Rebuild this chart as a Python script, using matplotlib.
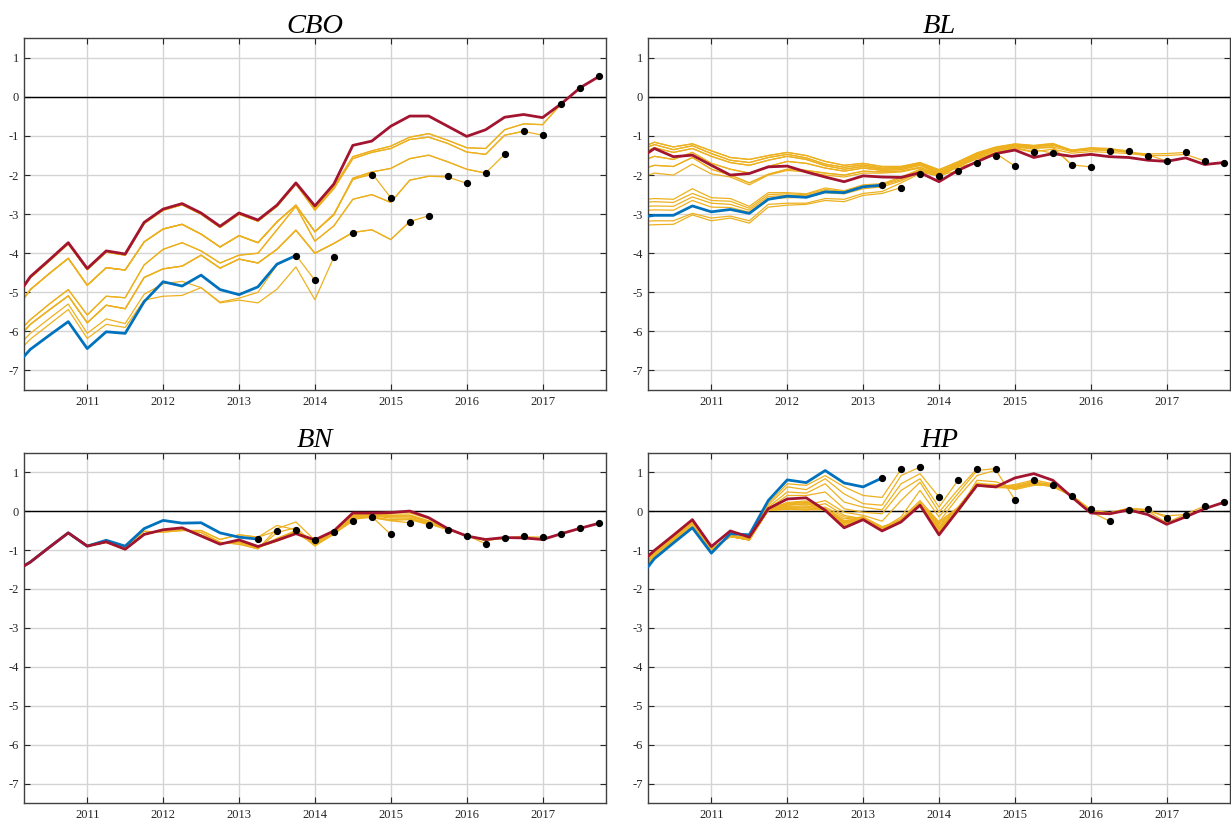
import numpy as np
import matplotlib
matplotlib.use("Agg")
import matplotlib.pyplot as plt

plt.rcParams['font.family'] = ['Liberation Serif', 'DejaVu Serif']
plt.rcParams['axes.unicode_minus'] = False

ORANGE = '#EDB120'
BLUE = '#0072BD'
RED = '#A2142F'

# quarterly dates, 2010Q1 .. 2017Q4
quarters = 2010 + 0.25 * np.arange(32)

# ---------------- CBO ----------------
cbo_red = [-5.30, -4.60, -4.17, -3.73, -4.39, -3.94, -4.02, -3.21, -2.87, -2.73, -2.97, -3.31,
           -2.97, -3.15, -2.77, -2.20, -2.79, -2.23, -1.24, -1.13, -0.75, -0.49, -0.49, -0.75,
           -1.01, -0.84, -0.52, -0.45, -0.53, -0.17, 0.24, 0.53]
cbo_blue = [-7.00, -6.46, -6.10, -5.75, -6.44, -6.01, -6.05, -5.24, -4.73, -4.84, -4.56, -4.93,
            -5.06, -4.86, -4.28, -4.06]
# early histories shared by several vintages
cbo_A = [-5.33, -4.63, -4.20, -3.76, -4.42, -3.97, -4.05, -3.24, -2.90, -2.76, -3.00, -3.34,
         -3.00, -3.18, -2.80, -2.23]
cbo_O1 = [-5.60, -4.93, -4.52, -4.13, -4.82, -4.37, -4.43, -3.71, -3.38, -3.26, -3.51, -3.84,
          -3.55, -3.73, -3.20, -2.77]
cbo_O2 = [-6.20, -5.70, -5.30, -4.93, -5.58, -5.10, -5.14, -4.30, -3.90, -3.73, -3.94, -4.25,
          -4.05, -4.00, -3.40, -2.80]
cbo_O3 = [-6.35, -5.82, -5.45, -5.09, -5.78, -5.33, -5.42, -4.62, -4.40, -4.33, -4.05, -4.38,
          -4.15, -4.25, -3.90, -3.41]
cbo_O4 = [-6.55, -6.05, -5.67, -5.30, -6.05, -5.68, -5.80, -5.05, -4.78, -4.72, -4.88, -5.25,
          -5.15, -5.00, -4.30, -4.05]
cbo_O5 = [-6.70, -6.20, -5.82, -5.44, -6.18, -5.82, -5.90, -5.20, -5.10, -5.08, -4.88, -5.27,
          -5.20, -5.27, -4.92, -4.35]
cbo_vintages = [
    (cbo_O4, [-4.69]),
    (cbo_O5, [-5.19, -4.10]),
    (cbo_O3, [-4.00, -3.75, -3.47]),
    (cbo_O1, [-3.45, -3.00, -2.10, -1.99]),
    (cbo_O1, [-3.45, -3.00, -2.12, -1.95, -2.58]),
    (cbo_O3, [-4.00, -3.75, -3.47, -3.40, -3.65, -3.19]),
    (cbo_O3, [-4.00, -3.75, -3.47, -3.40, -3.65, -3.19, -3.04]),
    (cbo_O2, [-3.69, -3.30, -2.62, -2.50, -2.70, -2.13, -2.03, -2.03]),
    (cbo_O2, [-3.69, -3.30, -2.62, -2.50, -2.70, -2.13, -2.03, -2.05, -2.21]),
    (cbo_O1, [-3.45, -3.02, -2.08, -1.92, -1.83, -1.58, -1.49, -1.66, -1.85, -1.95]),
    (cbo_O1, [-3.45, -3.02, -2.08, -1.92, -1.83, -1.58, -1.49, -1.66, -1.85, -1.95, -1.47]),
    (cbo_A, [-2.90, -2.35, -1.58, -1.42, -1.32, -1.09, -1.03, -1.19, -1.41, -1.47, -0.98, -0.88]),
    (cbo_A, [-2.90, -2.35, -1.58, -1.42, -1.32, -1.09, -1.03, -1.19, -1.41, -1.47, -0.98, -0.88, -0.98]),
    (cbo_A, [-2.86, -2.30, -1.53, -1.38, -1.26, -1.03, -0.94, -1.11, -1.30, -1.32, -0.84, -0.69, -0.71,
             -0.17]),
    (cbo_A, [-2.86, -2.30, -1.53, -1.38, -1.26, -1.03, -0.94, -1.11, -1.30, -1.32, -0.84, -0.69, -0.71,
             -0.17, 0.24]),
]

# ---------------- BL ----------------
bl_red = [-1.65, -1.32, -1.53, -1.49, -1.75, -2.00, -1.96, -1.79, -1.77, -1.92, -2.05, -2.17,
          -2.02, -2.05, -2.06, -1.94, -2.17, -1.88, -1.66, -1.45, -1.36, -1.55, -1.45, -1.52,
          -1.47, -1.53, -1.55, -1.62, -1.65, -1.56, -1.73, -1.68]
bl_blue = [-3.10, -3.03, -3.03, -2.79, -2.94, -2.88, -2.98, -2.62, -2.54, -2.57, -2.43, -2.45,
           -2.30, -2.26]
bl_L1 = [-2.65, -2.60, -2.62, -2.35, -2.58, -2.60, -2.80, -2.45, -2.45, -2.48, -2.33, -2.40, -2.25, -2.22]
bl_L2 = [-2.72, -2.68, -2.70, -2.47, -2.65, -2.67, -2.85, -2.50, -2.48, -2.50, -2.37, -2.42, -2.28, -2.24]
bl_L3 = [-2.82, -2.79, -2.80, -2.56, -2.72, -2.75, -2.90, -2.55, -2.52, -2.53, -2.40, -2.45, -2.30, -2.26]
bl_L4 = [-2.92, -2.89, -2.90, -2.65, -2.82, -2.83, -2.95, -2.60, -2.58, -2.57, -2.45, -2.48, -2.35, -2.30]
bl_L5 = [-3.20, -3.17, -3.17, -2.98, -3.10, -3.05, -3.17, -2.75, -2.72, -2.72, -2.60, -2.62, -2.47, -2.42]
bl_L6 = [-3.30, -3.27, -3.26, -3.02, -3.17, -3.10, -3.23, -2.82, -2.77, -2.75, -2.65, -2.68, -2.52, -2.47]
bl_U1 = [-1.35, -1.16, -1.28, -1.20, -1.38, -1.55, -1.60, -1.50, -1.42, -1.50, -1.65, -1.75,
         -1.70, -1.78, -1.78, -1.68]
bl_U2 = [-1.40, -1.22, -1.35, -1.25, -1.45, -1.62, -1.68, -1.55, -1.47, -1.56, -1.72, -1.80,
         -1.74, -1.82, -1.80, -1.70]
bl_U3 = [-1.50, -1.30, -1.42, -1.32, -1.52, -1.68, -1.75, -1.62, -1.52, -1.60, -1.76, -1.85,
         -1.78, -1.85, -1.83, -1.72]
bl_U4 = [-1.70, -1.52, -1.60, -1.42, -1.70, -1.85, -1.95, -1.78, -1.65, -1.70, -1.82, -1.90,
         -1.82, -1.88, -1.86, -1.75]
bl_U5 = [-1.90, -1.75, -1.78, -1.55, -1.85, -2.00, -2.20, -1.98, -1.85, -1.88, -1.95, -2.00,
         -1.90, -1.92, -1.90, -1.80]
bl_U6 = [-2.10, -1.95, -2.00, -1.72, -1.97, -2.05, -2.25, -2.00, -1.88, -1.92, -2.00, -2.05,
         -1.95, -1.95, -1.92, -1.82]
bl_vintages = [
    (bl_L6, [-2.32]),
    (bl_L5, [-2.20, -1.96]),
    (bl_L4, [-2.15, -1.92, -2.03]),
    (bl_L3, [-2.12, -1.90, -2.00, -1.90]),
    (bl_L2, [-2.08, -1.88, -1.98, -1.80, -1.68]),
    (bl_L1, [-2.05, -1.85, -1.95, -1.76, -1.58, -1.50]),
    (bl_U6, [-2.05, -1.79, -1.58, -1.45, -1.77]),
    (bl_U5, [-2.02, -1.77, -1.56, -1.42, -1.32, -1.42]),
    (bl_U4, [-1.98, -1.74, -1.52, -1.38, -1.28, -1.34, -1.44]),
    (bl_U3, [-1.95, -1.72, -1.50, -1.35, -1.25, -1.30, -1.30, -1.74]),
    (bl_U3, [-1.93, -1.70, -1.48, -1.33, -1.24, -1.28, -1.28, -1.74, -1.79]),
    (bl_U2, [-1.90, -1.68, -1.46, -1.31, -1.22, -1.27, -1.24, -1.38, -1.33, -1.38]),
    (bl_U2, [-1.88, -1.67, -1.45, -1.30, -1.22, -1.26, -1.22, -1.37, -1.32, -1.33, -1.38]),
    (bl_U1, [-1.87, -1.66, -1.44, -1.29, -1.21, -1.25, -1.20, -1.36, -1.30, -1.32, -1.40, -1.52]),
    (bl_U1, [-1.86, -1.66, -1.43, -1.28, -1.20, -1.24, -1.19, -1.37, -1.31, -1.34, -1.42, -1.48, -1.64]),
    (bl_U4, [-1.95, -1.72, -1.50, -1.35, -1.26, -1.32, -1.28, -1.40, -1.36, -1.37, -1.42, -1.46, -1.45,
             -1.42]),
    (bl_U5, [-2.00, -1.76, -1.54, -1.38, -1.30, -1.40, -1.34, -1.44, -1.40, -1.42, -1.45, -1.50, -1.50,
             -1.47, -1.64]),
]

# ---------------- BN ----------------
bn_red = [-1.60, -1.31, -0.93, -0.56, -0.90, -0.79, -0.98, -0.60, -0.48, -0.43, -0.64, -0.85,
          -0.74, -0.91, -0.75, -0.58, -0.74, -0.51, -0.05, -0.05, -0.04, 0.00, -0.17, -0.45,
          -0.64, -0.73, -0.68, -0.69, -0.73, -0.58, -0.44, -0.31]
bn_blue = [-1.60, -1.31, -0.93, -0.56, -0.90, -0.75, -0.90, -0.45, -0.24, -0.31, -0.30, -0.56,
           -0.67, -0.72]
bn_E1 = [-1.60, -1.31, -0.93, -0.56, -0.88, -0.77, -0.92, -0.52, -0.54, -0.50, -0.50, -0.73, -0.61, -0.67]
bn_E2 = [-1.60, -1.31, -0.93, -0.56, -0.89, -0.79, -0.97, -0.58, -0.50, -0.48, -0.55, -0.80, -0.85, -0.97]
bn_E3 = [-1.60, -1.31, -0.93, -0.56, -0.90, -0.80, -0.98, -0.60, -0.49, -0.45, -0.62, -0.82, -0.80, -0.93]
bn_vintages = [
    (bn_E1, [-0.51]),
    (bn_E1, [-0.37, -0.48]),
    (bn_E2, [-0.45, -0.28, -0.75]),
    (bn_E2, [-0.55, -0.43, -0.85, -0.54]),
    (bn_E3, [-0.70, -0.50, -0.90, -0.58, -0.26]),
    (bn_E3, [-0.72, -0.52, -0.88, -0.60, -0.22, -0.14]),
    (bn_E3, [-0.74, -0.55, -0.86, -0.58, -0.20, -0.14, -0.60]),
    (bn_E3, [-0.76, -0.57, -0.84, -0.57, -0.18, -0.17, -0.25, -0.30]),
    (bn_E3, [-0.77, -0.58, -0.82, -0.56, -0.16, -0.16, -0.24, -0.22, -0.35]),
    (bn_E3, [-0.77, -0.58, -0.80, -0.56, -0.14, -0.15, -0.22, -0.20, -0.33, -0.48]),
    (bn_E3, [-0.76, -0.58, -0.78, -0.55, -0.12, -0.12, -0.18, -0.18, -0.32, -0.47, -0.64]),
    (bn_E3, [-0.76, -0.58, -0.77, -0.54, -0.10, -0.10, -0.15, -0.15, -0.30, -0.46, -0.62, -0.84]),
    (bn_E3, [-0.75, -0.58, -0.76, -0.53, -0.10, -0.10, -0.14, -0.12, -0.28, -0.46, -0.63, -0.76, -0.69]),
    (bn_E3, [-0.75, -0.57, -0.75, -0.53, -0.08, -0.08, -0.12, -0.12, -0.27, -0.45, -0.64, -0.75, -0.70,
             -0.64]),
    (bn_E3, [-0.75, -0.56, -0.75, -0.52, -0.07, -0.07, -0.10, -0.10, -0.25, -0.45, -0.64, -0.74, -0.70,
             -0.66, -0.67]),
    (bn_E3, [-0.74, -0.54, -0.75, -0.52, -0.06, -0.06, -0.05, -0.05, -0.20, -0.45, -0.64, -0.74, -0.69,
             -0.68, -0.70, -0.60]),
    (bn_E3, [-0.74, -0.52, -0.75, -0.52, -0.05, -0.05, -0.03, -0.02, -0.18, -0.45, -0.64, -0.73, -0.68,
             -0.69, -0.72, -0.58, -0.44]),
]

# ---------------- HP ----------------
hp_red = [-1.45, -1.01, -0.62, -0.22, -0.91, -0.51, -0.67, 0.06, 0.31, 0.34, 0.02, -0.43,
          -0.22, -0.51, -0.28, 0.15, -0.61, 0.02, 0.66, 0.62, 0.85, 0.96, 0.79, 0.36,
          -0.05, -0.07, 0.03, -0.09, -0.34, -0.15, 0.06, 0.22]
hp_blue = [-1.85, -1.22, -0.82, -0.43, -1.08, -0.58, -0.61, 0.27, 0.80, 0.73, 1.04, 0.72,
           0.62, 0.85]
hp_G1 = [-1.70, -1.17, -0.78, -0.38, -1.05, -0.58, -0.63]
hp_G2 = [-1.60, -1.12, -0.74, -0.32, -1.00, -0.62, -0.70]
hp_G3 = [-1.52, -1.06, -0.68, -0.27, -0.98, -0.65, -0.74]
hp_vintages = [
    (hp_G1, [0.20, 0.70, 0.66, 0.91, 0.62, 0.40, 0.35, 1.07]),
    (hp_G1, [0.15, 0.62, 0.55, 0.83, 0.44, 0.19, 0.15, 0.91, 1.13]),
    (hp_G2, [0.10, 0.49, 0.46, 0.70, 0.23, 0.10, 0.03, 0.70, 0.96, 0.36]),
    (hp_G2, [0.06, 0.40, 0.40, 0.49, 0.06, -0.03, -0.07, 0.53, 0.83, 0.10, 0.79]),
    (hp_G2, [0.03, 0.19, 0.15, 0.27, -0.03, -0.11, -0.26, 0.27, 0.74, -0.03, 0.55, 1.09]),
    (hp_G3, [0.03, 0.10, 0.09, 0.19, -0.11, -0.20, -0.45, -0.15, 0.53, -0.15, 0.45, 1.04, 1.09]),
    (hp_G3, [0.03, 0.06, 0.05, 0.10, -0.15, -0.22, -0.45, -0.20, 0.27, -0.28, 0.35, 0.91, 1.05, 0.29]),
    (hp_G3, [0.02, 0.06, 0.03, 0.06, -0.20, -0.15, -0.40, -0.24, 0.20, -0.41, 0.00, 0.79, 0.75, 0.57,
             0.80]),
    (hp_G3, [0.02, 0.04, 0.03, 0.04, -0.25, -0.18, -0.42, -0.24, 0.18, -0.35, 0.05, 0.70, 0.68, 0.55,
             0.66, 0.68]),
    (hp_G3, [0.02, 0.05, 0.05, 0.03, -0.28, -0.20, -0.45, -0.26, 0.17, -0.28, 0.10, 0.70, 0.65, 0.58,
             0.70, 0.62, 0.39]),
    (hp_G3, [0.03, 0.08, 0.10, 0.02, -0.30, -0.20, -0.45, -0.27, 0.18, -0.41, 0.02, 0.72, 0.65, 0.60,
             0.72, 0.65, 0.40, 0.04]),
    (hp_G3, [0.04, 0.12, 0.13, 0.05, -0.25, -0.18, -0.42, -0.22, 0.22, -0.35, 0.05, 0.68, 0.62, 0.58,
             0.70, 0.64, 0.40, -0.02, -0.26]),
    (hp_G3, [0.05, 0.15, 0.18, 0.06, -0.28, -0.15, -0.45, -0.22, 0.20, -0.30, 0.08, 0.70, 0.60, 0.60,
             0.68, 0.66, 0.40, 0.00, -0.08, 0.03]),
    (hp_G3, [0.05, 0.15, 0.20, 0.05, -0.30, -0.18, -0.47, -0.25, 0.20, -0.45, 0.00, 0.65, 0.62, 0.62,
             0.70, 0.68, 0.40, 0.02, -0.04, 0.07, 0.04]),
    (hp_G3, [0.05, 0.18, 0.22, 0.06, -0.32, -0.18, -0.48, -0.25, 0.20, -0.48, -0.02, 0.64, 0.62, 0.64,
             0.72, 0.66, 0.38, 0.00, -0.06, 0.06, 0.03, -0.17]),
    (hp_G3, [0.05, 0.20, 0.24, 0.04, -0.35, -0.20, -0.48, -0.27, 0.18, -0.52, 0.00, 0.64, 0.62, 0.66,
             0.75, 0.68, 0.38, -0.02, -0.05, 0.07, 0.00, -0.12, -0.09]),
    (hp_G3, [0.05, 0.22, 0.26, 0.03, -0.38, -0.20, -0.50, -0.27, 0.18, -0.55, 0.00, 0.64, 0.62, 0.68,
             0.80, 0.70, 0.38, -0.03, -0.05, 0.07, 0.00, -0.30, -0.08, 0.13]),
]

panels = [
    ("CBO", cbo_red, cbo_blue, cbo_vintages, [0.0197, 0.5284, 0.4728, 0.4253]),
    ("BL", bl_red, bl_blue, bl_vintages, [0.5267, 0.5284, 0.4728, 0.4253]),
    ("BN", bn_red, bn_blue, bn_vintages, [0.0197, 0.0287, 0.4728, 0.4240]),
    ("HP", hp_red, hp_blue, hp_vintages, [0.5267, 0.0287, 0.4728, 0.4240]),
]


def draw_panel(ax, title, red, blue, vintages):
    ax.axhline(0, color='black', lw=1.0, zorder=1.5)
    ends_x, ends_y = [], []
    for hist, tail in vintages:
        v = hist + tail
        ax.plot(quarters[:len(v)], v, color=ORANGE, lw=0.9, zorder=2)
        ends_x.append(quarters[len(v) - 1])
        ends_y.append(v[-1])
    ax.plot(quarters[:len(blue)], blue, color=BLUE, lw=2.0, zorder=3)
    ax.plot(quarters[:len(red)], red, color=RED, lw=2.0, zorder=4)
    ends_x += [quarters[len(blue) - 1], quarters[len(red) - 1]]
    ends_y += [blue[-1], red[-1]]
    ax.plot(ends_x, ends_y, 'o', color='black', ms=4.2, zorder=5)

    ax.set_xlim(2010.17, 2017.84)
    ax.set_ylim(-7.5, 1.5)
    ax.set_xticks(range(2011, 2018))
    ax.set_yticks(range(-7, 2))
    ax.grid(True, color='#d4d4d4', lw=1.0)
    ax.set_axisbelow(True)
    ax.tick_params(direction='in', top=True, right=True, length=4.5, width=0.8,
                   labelsize=9, colors='#262626', pad=4)
    for s in ax.spines.values():
        s.set_color('#404040')
        s.set_linewidth(1.0)
    ax.set_title(title, style='italic', fontsize=20.5, pad=4, color='black')


fig = plt.figure(figsize=(12.31, 8.27), dpi=100)
for title, red, blue, vintages, pos in panels:
    ax = fig.add_axes(pos)
    draw_panel(ax, title, red, blue, vintages)

fig.savefig("out.png", dpi=100)
